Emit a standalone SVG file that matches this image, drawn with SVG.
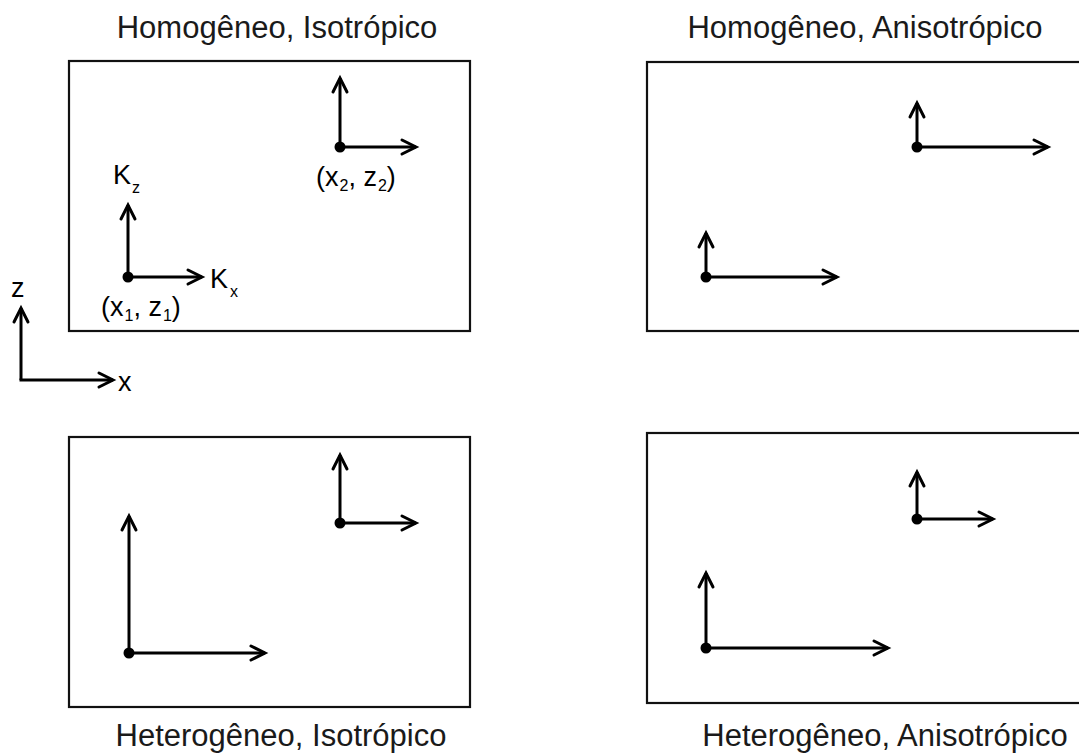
<svg xmlns="http://www.w3.org/2000/svg" width="1079" height="753" viewBox="0 0 1079 753">
<style>
.box{fill:none;stroke:#111;stroke-width:2.2}
.ar{fill:none;stroke:#000;stroke-width:3;marker-end:url(#ah)}
.dot{fill:#000}
.title{font-family:"Liberation Sans",Arial,sans-serif;font-size:31px;fill:#1a1a1a;text-anchor:middle}
.lbl{font-family:"Liberation Sans",Arial,sans-serif;font-size:27px;fill:#000}
.sub{font-size:16px}
</style>
<defs>
<marker id="ah" markerUnits="userSpaceOnUse" markerWidth="30" markerHeight="30" viewBox="-20 -15 30 30" refX="0" refY="0" orient="auto">
<path d="M-14,-7 L0,0 L-14,7" fill="none" stroke="#000" stroke-width="3" stroke-linecap="round" stroke-linejoin="miter"/>
</marker>
</defs>
<rect width="1079" height="753" fill="#fff"/>

<g id="panel-hom-iso">
<text class="title" x="277" y="38">Homogêneo, Isotrópico</text>
<rect class="box" x="69" y="61" width="401" height="270"/>
</g>
<g id="panel-hom-aniso">
<text class="title" x="865" y="38">Homogêneo, Anisotrópico</text>
<rect class="box" x="647" y="62" width="440" height="269"/>
</g>
<g id="panel-het-iso">
<text class="title" x="281" y="746">Heterogêneo, Isotrópico</text>
<rect class="box" x="69" y="437" width="401" height="270"/>
</g>
<g id="panel-het-aniso">
<text class="title" x="885" y="746">Heterogêneo, Anisotrópico</text>
<rect class="box" x="647" y="433" width="440" height="270"/>
</g>

<g id="labels">
<text class="lbl" x="113" y="184">K<tspan class="sub" dx="1" dy="9">z</tspan></text>
<text class="lbl" x="210" y="288">K<tspan class="sub" dx="2" dy="9">x</tspan></text>
<text class="lbl" x="101" y="316">(x<tspan class="sub" dx="1" dy="5">1</tspan><tspan dy="-5">, z</tspan><tspan class="sub" dx="1" dy="5">1</tspan><tspan dy="-5">)</tspan></text>
<text class="lbl" x="316" y="186">(x<tspan class="sub" dx="1" dy="5">2</tspan><tspan dy="-5">, z</tspan><tspan class="sub" dx="1" dy="5">2</tspan><tspan dy="-5">)</tspan></text>
<text class="lbl" x="11" y="297">z</text>
<text class="lbl" x="118" y="391">x</text>
</g>

<g id="connectors">
<path d="M21,380 L21,308" fill="none" stroke="#000" stroke-width="3" marker-end="url(#ah)"/>
<path d="M19.5,380 L113,380" fill="none" stroke="#000" stroke-width="3" marker-end="url(#ah)"/>

<line class="ar" x1="128" y1="277" x2="128" y2="205"/>
<line class="ar" x1="128" y1="277" x2="202" y2="277"/>
<line class="ar" x1="340" y1="147" x2="340" y2="78"/>
<line class="ar" x1="340" y1="147" x2="416" y2="147"/>

<line class="ar" x1="917" y1="147" x2="917" y2="103"/>
<line class="ar" x1="917" y1="147" x2="1048" y2="147"/>
<line class="ar" x1="706" y1="277" x2="706" y2="233"/>
<line class="ar" x1="706" y1="277" x2="837" y2="277"/>

<line class="ar" x1="340" y1="523" x2="340" y2="455"/>
<line class="ar" x1="340" y1="523" x2="416" y2="523"/>
<line class="ar" x1="129" y1="653" x2="129" y2="516"/>
<line class="ar" x1="129" y1="653" x2="265" y2="653"/>

<line class="ar" x1="917" y1="519" x2="917" y2="472"/>
<line class="ar" x1="917" y1="519" x2="993" y2="519"/>
<line class="ar" x1="706" y1="648" x2="706" y2="573"/>
<line class="ar" x1="706" y1="648" x2="888" y2="648"/>
</g>

<g id="points">
<circle class="dot" cx="128" cy="277" r="5.5"/>
<circle class="dot" cx="340" cy="147" r="5.5"/>
<circle class="dot" cx="917" cy="147" r="5.5"/>
<circle class="dot" cx="706" cy="277" r="5.5"/>
<circle class="dot" cx="340" cy="523" r="5.5"/>
<circle class="dot" cx="129" cy="653" r="5.5"/>
<circle class="dot" cx="917" cy="519" r="5.5"/>
<circle class="dot" cx="706" cy="648" r="5.5"/>
</g>
</svg>
